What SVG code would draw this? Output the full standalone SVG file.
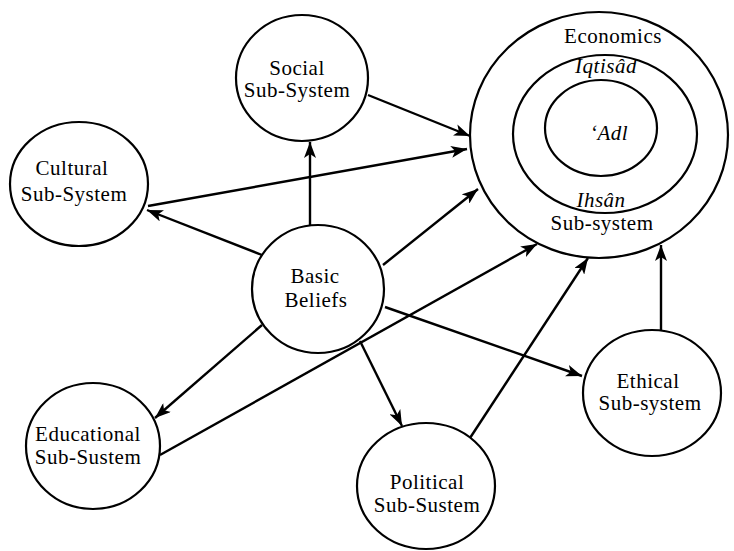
<svg xmlns="http://www.w3.org/2000/svg" width="734" height="551" viewBox="0 0 734 551">
<defs>
<marker id="arr" markerUnits="userSpaceOnUse" markerWidth="18" markerHeight="12" refX="16" refY="6" orient="auto">
<path d="M0,0 L16,6 L0,12 L4,6 z" fill="#000"/>
</marker>
<style>
.n{fill:#fff;stroke:#000;stroke-width:2.2}
.t{font-family:"Liberation Serif","Times New Roman",serif;font-size:21px;letter-spacing:0.5px;fill:#000;text-anchor:middle}
.i{font-style:italic}
.c line{stroke:#000;stroke-width:2.4;marker-end:url(#arr)}
</style>
</defs>
<rect width="734" height="551" fill="#fff"/>
<g id="economics">
<ellipse class="n" cx="599" cy="135" rx="129" ry="123"/>
<ellipse class="n" cx="605" cy="134" rx="92" ry="79"/>
<ellipse class="n" cx="601" cy="128" rx="56" ry="48"/>
<text class="t" x="613" y="43">Economics</text>
<text class="t i" x="606" y="73">Iqtisâd</text>
<text class="t i" x="609" y="140">‘Adl</text>
<text class="t i" x="601" y="207">Ihsân</text>
<text class="t" x="602" y="230">Sub-system</text>
</g>
<g id="social">
<ellipse class="n" cx="302" cy="78" rx="66" ry="63"/>
<text class="t" x="297" y="75">Social</text>
<text class="t" x="297" y="97">Sub-System</text>
</g>
<g id="cultural">
<ellipse class="n" cx="79" cy="184" rx="69" ry="62"/>
<text class="t" x="72" y="175">Cultural</text>
<text class="t" x="74" y="201">Sub-System</text>
</g>
<g id="basic">
<ellipse class="n" cx="318" cy="289" rx="66" ry="64"/>
<text class="t" x="315" y="283">Basic</text>
<text class="t" x="316" y="307">Beliefs</text>
</g>
<g id="educational">
<ellipse class="n" cx="93" cy="446" rx="67" ry="63"/>
<text class="t" x="88" y="441">Educational</text>
<text class="t" x="88" y="464">Sub-Sustem</text>
</g>
<g id="political">
<ellipse class="n" cx="426" cy="486" rx="69" ry="63"/>
<text class="t" x="427" y="489">Political</text>
<text class="t" x="427" y="512">Sub-Sustem</text>
</g>
<g id="ethical">
<ellipse class="n" cx="652" cy="393" rx="69" ry="63"/>
<text class="t" x="648" y="388">Ethical</text>
<text class="t" x="650" y="410">Sub-system</text>
</g>
<g id="connectors" class="c">
<line x1="368" y1="95" x2="470" y2="136"/>
<line x1="148" y1="206" x2="467" y2="149"/>
<line x1="262" y1="255" x2="147" y2="210"/>
<line x1="310" y1="225" x2="310" y2="142"/>
<line x1="383" y1="265" x2="478" y2="189"/>
<line x1="385" y1="307" x2="582" y2="376"/>
<line x1="160" y1="455" x2="537" y2="244"/>
<line x1="262" y1="325" x2="155" y2="418"/>
<line x1="360" y1="341" x2="402" y2="426"/>
<line x1="470" y1="438" x2="588" y2="258"/>
<line x1="661" y1="330" x2="661" y2="245"/>
</g>
</svg>
